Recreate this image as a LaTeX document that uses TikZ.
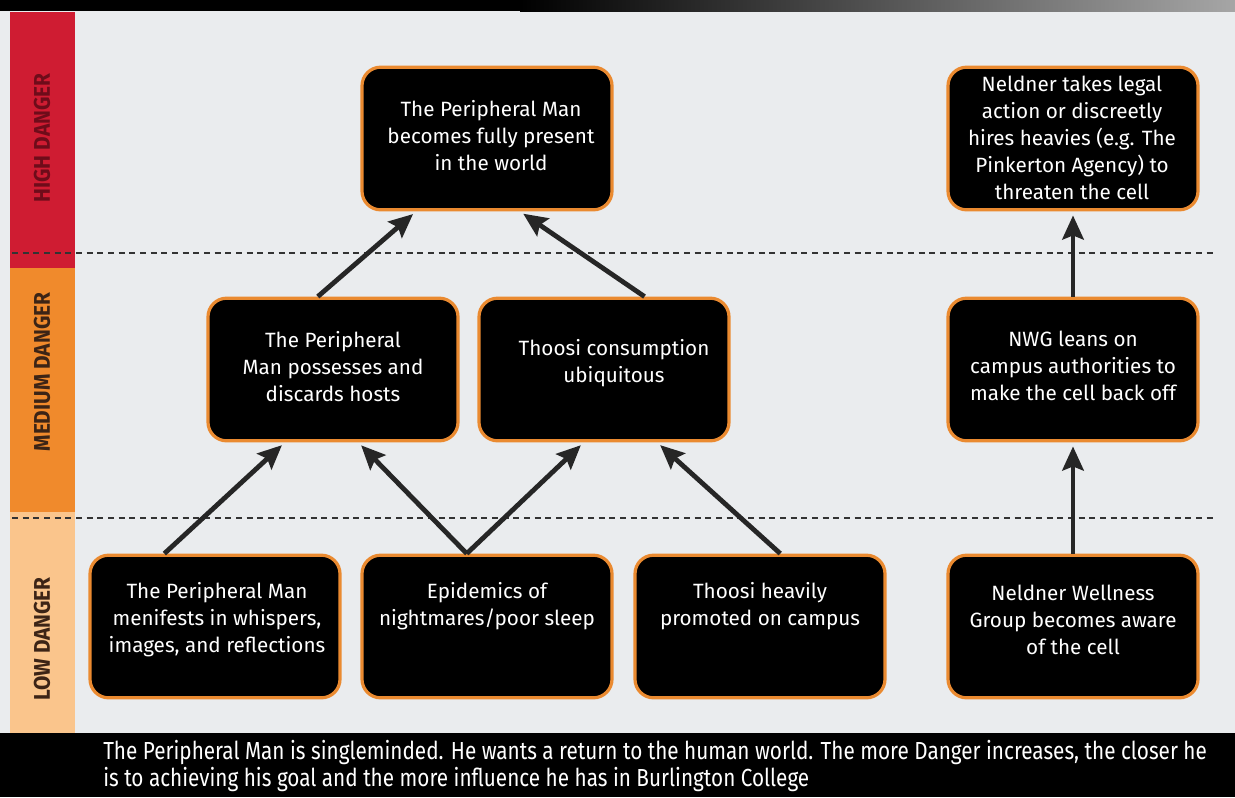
\documentclass[tikz,border=0pt]{standalone}
\usepackage{fontspec}
\setmainfont{Fira Sans}
\newfontfamily\bandfont[FakeStretch=0.92]{Fira Sans}
\newfontfamily\notefont[FakeStretch=0.84]{Fira Sans}
\usetikzlibrary{arrows.meta,positioning,calc}
\definecolor{paper}{HTML}{EAECEE}
\definecolor{hiband}{HTML}{CF1C32}
\definecolor{midband}{HTML}{F08A2C}
\definecolor{lowband}{HTML}{FAC58C}
\definecolor{glow}{HTML}{EA8A30}
\definecolor{arrowgrey}{HTML}{262626}
\definecolor{hitext}{HTML}{6E0C1A}
\definecolor{bandtextc}{HTML}{3C2416}
\begin{document}
\begin{tikzpicture}[x=0.75pt, y=-0.75pt,
	dangerbox/.style={rectangle, rounded corners=14pt, draw=glow, line width=2.4pt,
		fill=black, minimum width=187.5pt, minimum height=107pt, inner sep=0pt},
	boxtext/.style={text=white, align=center, inner sep=0pt,
		font=\fontsize{15.5}{20.25}\selectfont},
	bandtext/.style={rotate=90, font=\bandfont\bfseries\fontsize{17}{20}\selectfont},
	lift/.style={draw=arrowgrey, line width=3.6pt,
		-{Stealth[length=18pt, width=16pt, inset=3pt]}, shorten >=3pt},
	levelline/.style={draw=black!80, dash pattern=on 4.5pt off 3.5pt, line width=1.1pt}]

	\useasboundingbox (0,0) rectangle (1235,797);

	% paper, top strip and the danger bands
	\fill[paper] (0,0) rectangle (1235,797);
	\fill[black] (0,0) rectangle (520,11);
	\shade[left color=black, right color=black!35] (520,0) rectangle (1235,11);
	\fill[hiband]  (10,12)  rectangle (75,268);
	\fill[midband] (10,268) rectangle (75,512);
	\fill[lowband] (10,512) rectangle (75,733);
	\node[bandtext, text=hitext]    (bandHigh) at (42,138) {HIGH DANGER};
	\node[bandtext, text=bandtextc] (bandMid)  at (42,372) {MEDIUM DANGER};
	\node[bandtext, text=bandtextc] (bandLow)  at (42,639) {LOW DANGER};

	% level borders
	\draw[levelline] (12,253) -- (1215,253);
	\draw[levelline] (12,518) -- (1215,518);

	% boxes
	\node[dangerbox] (hM) at (487,138.5)  {};
	\node[dangerbox] (hN) at (1073,138.5) {};
	\node[dangerbox] (mP) at (333,369.5)  {};
	\node[dangerbox] (mT) at (604,369.5)  {};
	\node[dangerbox] (mN) at (1073,369.5) {};
	\node[dangerbox] (lP) at (215,626.5)  {};
	\node[dangerbox] (lE) at (487,626.5)  {};
	\node[dangerbox] (lT) at (760,626.5)  {};
	\node[dangerbox] (lN) at (1073,626.5) {};

	% box texts
	\node[boxtext] (thM) at (491,136)  {The Peripheral Man\\becomes fully present\\in the world};
	\node[boxtext] (thN) at (1072,138) {Neldner takes legal\\action or discreetly\\hires heavies (e.g. The\\Pinkerton Agency) to\\threaten the cell};
	\node[boxtext] (tmP) at (333,367)  {The Peripheral\\Man possesses and\\discards hosts};
	\node[boxtext] (tmT) at (614,363)  {Thoosi consumption\\ubiquitous};
	\node[boxtext] (tmN) at (1073,366) {NWG leans on\\campus authorities to\\make the cell back off};
	\node[boxtext] (tlP) at (217,620)  {The Peripheral Man\\menifests in whispers,\\images, and reflections};
	\node[boxtext] (tlE) at (487,606)  {Epidemics of\\nightmares/poor sleep};
	\node[boxtext] (tlT) at (760,606)  {Thoosi heavily\\promoted on campus};
	\node[boxtext] (tlN) at (1073,620) {Neldner Wellness\\Group becomes aware\\of the cell};

	% arrows between levels
	\draw[lift] ($(lP.north west)!0.30!(lP.north east)$) -- ($(mP.south west)!0.31!(mP.south east)$);
	\draw[lift] ($(lE.north west)!0.42!(lE.north east)$) -- ($(mP.south west)!0.60!(mP.south east)$);
	\draw[lift] ($(lE.north west)!0.42!(lE.north east)$) -- ($(mT.south west)!0.42!(mT.south east)$);
	\draw[lift] ($(lT.north west)!0.58!(lT.north east)$) -- ($(mT.south west)!0.71!(mT.south east)$);
	\draw[lift] ($(mP.north west)!0.44!(mP.north east)$) -- ($(hM.south west)!0.22!(hM.south east)$);
	\draw[lift] ($(mT.north west)!0.66!(mT.north east)$) -- ($(hM.south west)!0.63!(hM.south east)$);
	\draw[lift] (lN.north) -- (mN.south);
	\draw[lift] (mN.north) -- (hN.south);

	% note strip
	\fill[black] (0,733) rectangle (1235,797);
	\node[anchor=west, text=white, align=left, inner sep=0pt,
		font=\notefont\fontsize{18.5}{20.25}\selectfont] (note) at (103,766)
		{The Peripheral Man is singleminded. He wants a return to the human world. The more Danger increases, the closer he\\is to achieving his goal and the more influence he has in Burlington College};
\end{tikzpicture}
\end{document}
